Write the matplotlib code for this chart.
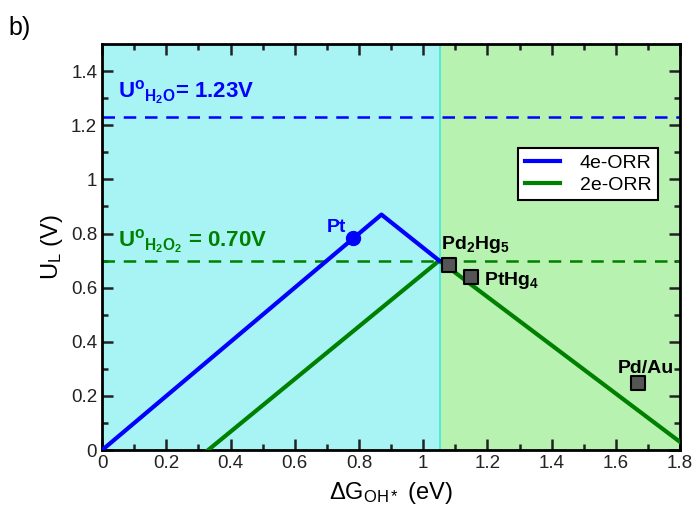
import matplotlib
matplotlib.use("Agg")
import matplotlib.pyplot as plt

plt.rcParams['font.family'] = ['Liberation Sans', 'DejaVu Sans']
plt.rcParams['mathtext.fontset'] = 'custom'
plt.rcParams['mathtext.rm'] = 'Liberation Sans'
plt.rcParams['mathtext.it'] = 'Liberation Sans'
plt.rcParams['mathtext.bf'] = 'Liberation Sans:bold'

# Data
orr4_x = [0.0, 0.87, 1.05]
orr4_y = [0.0, 0.87, 0.70]
orr2_x = [0.33, 1.05, 1.80]
orr2_y = [0.0, 0.70, 0.03]
boundary_x = 1.053
u_h2o = 1.23
u_h2o2 = 0.70
pt_x, pt_y = 0.78, 0.785
sq_names = [r'Pd$_{\mathbf{2}}$Hg$_{\mathbf{5}}$', r'PtHg$_{\mathbf{4}}$', 'Pd/Au']
sq_x = [1.08, 1.15, 1.67]
sq_y = [0.685, 0.64, 0.248]
xticks = [0, 0.2, 0.4, 0.6, 0.8, 1.0, 1.2, 1.4, 1.6, 1.8]
xtick_labels = ['0', '0.2', '0.4', '0.6', '0.8', '1', '1.2', '1.4', '1.6', '1.8']
yticks = [0, 0.2, 0.4, 0.6, 0.8, 1.0, 1.2, 1.4]
ytick_labels = ['0', '0.2', '0.4', '0.6', '0.8', '1', '1.2', '1.4']

fig = plt.figure(figsize=(6.99, 5.18), dpi=100)
ax = fig.add_axes([0.146, 0.131, 0.827, 0.784])
ax.set_xlim(0, 1.8)
ax.set_ylim(0, 1.5)

ax.axvspan(0, boundary_x, color='#a8f4f4', zorder=0, lw=0)
ax.axvspan(boundary_x, 1.8, color='#b8f2b0', zorder=0, lw=0)
ax.axvline(boundary_x, color='#40e8d8', lw=1.2, zorder=1)

ax.axhline(u_h2o, color='#0000ff', ls=(0, (5, 3.5)), lw=1.8, zorder=2)
ax.axhline(u_h2o2, color='#008000', ls=(0, (5, 3.5)), lw=1.8, zorder=2)

ax.plot(orr2_x, orr2_y, color='#008000', lw=3, zorder=3, label='2e-ORR')
ax.plot(orr4_x, orr4_y, color='#0000ff', lw=3, zorder=4, label='4e-ORR')

ax.plot([pt_x], [pt_y], 'o', color='#0000ff', ms=10, zorder=5)
ax.text(pt_x - 0.02, pt_y + 0.005, 'Pt', color='#0000ff', fontsize=14,
        fontweight='bold', ha='right', va='bottom')

ax.scatter(sq_x, sq_y, marker='s', s=110, facecolor='#555555',
           edgecolor='black', linewidth=1.5, zorder=6)
ax.text(1.055, 0.72, sq_names[0], fontsize=14, fontweight='bold', ha='left', va='bottom')
ax.text(1.19, 0.625, sq_names[1], fontsize=14, fontweight='bold', ha='left', va='center')
ax.text(1.78, 0.30, sq_names[2], fontsize=14, fontweight='bold', ha='right', va='center')

ax.text(0.05, 1.32, r'U$^{\mathbf{o}}$$_{\mathbf{H_2O}}$= 1.23V', color='#0000ff',
        fontsize=16, fontweight='bold', ha='left', va='center')
ax.text(0.05, 0.77, r'U$^{\mathbf{o}}$$_{\mathbf{H_2O_2}}$ = 0.70V', color='#008000',
        fontsize=16, fontweight='bold', ha='left', va='center')

handles, labels = ax.get_legend_handles_labels()
leg = ax.legend(handles[::-1], labels[::-1], loc='upper left',
                bbox_to_anchor=(0.72, 0.745), fontsize=14, frameon=True,
                fancybox=False, edgecolor='black', framealpha=1,
                handlelength=1.8, borderpad=0.35, labelspacing=0.2,
                handletextpad=1.0, borderaxespad=0)
leg.get_frame().set_linewidth(1.5)
for l in leg.get_lines():
    l.set_linewidth(3)

ax.set_xticks(xticks)
ax.set_xticklabels(xtick_labels)
ax.set_yticks(yticks)
ax.set_yticklabels(ytick_labels)
ax.set_xticks([0.1, 0.3, 0.5, 0.7, 0.9, 1.1, 1.3, 1.5, 1.7], minor=True)
ax.set_yticks([0.1, 0.3, 0.5, 0.7, 0.9, 1.1, 1.3], minor=True)
ax.tick_params(which='both', direction='in', top=True, right=True, labelsize=13.5,
               colors='#222222', width=1.8)
ax.tick_params(which='major', length=8)
ax.tick_params(which='minor', length=4)
for sp in ax.spines.values():
    sp.set_linewidth(2)

ax.set_xlabel(r'$\Delta$G$_{\mathrm{OH*}}$ (eV)', fontsize=17, labelpad=6)
ax.set_ylabel(r'U$_\mathrm{L}$ (V)', fontsize=17, labelpad=4)

fig.text(0.012, 0.97, 'b)', fontsize=18, ha='left', va='top')

fig.savefig('out.png', dpi=100)
